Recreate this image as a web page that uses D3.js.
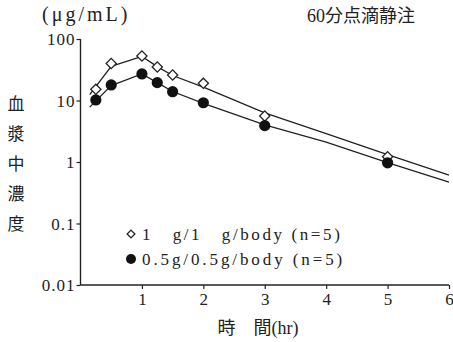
<!DOCTYPE html>
<html><head><meta charset="utf-8">
<script src="https://cdn.jsdelivr.net/npm/d3@7"></script>
<style>
html,body{margin:0;padding:0;background:#fff;}
svg{display:block;}
svg text{font-family:"Liberation Serif","Times New Roman","DejaVu Serif",Tinos,"Noto Sans CJK JP",serif;}
</style></head><body>
<svg id="c" width="453" height="342"></svg>
<script>
// Observed data (hr, µg/mL)
const timesHigh = [0.25, 0.5, 1, 1.25, 1.5, 2, 3, 5];
const valuesHigh = [15.2, 40, 53, 35, 26, 19, 5.6, 1.22];
const timesLow = [0.25, 0.5, 1, 1.25, 1.5, 2, 3, 5];
const valuesLow = [10.2, 17.9, 27, 19.5, 13.9, 9.2, 3.9, 0.97];
// Fitted curves
const fitTimesHigh = [0.15, 0.5, 1, 1.25, 1.5, 2, 3, 4, 5, 6];
const fitValuesHigh = [12.5, 36, 52, 35.5, 25.5, 16.5, 6.3, 2.9, 1.32, 0.61];
const fitTimesLow = [0.15, 0.5, 1, 1.25, 1.5, 2, 3, 4, 5, 6];
const fitValuesLow = [7.8, 17.5, 27, 19.5, 14, 9.0, 4.0, 2.1, 0.98, 0.47];
// Axis ticks
const xTicks = [1, 2, 3, 4, 5, 6];
const xTickLabels = ["1", "2", "3", "4", "5", "6"];
const yTicks = [0.01, 0.1, 1, 10, 100];
const yTickLabels = ["0.01", "0.1", "1", "10", "100"];
const legendLabels = ["1\u3000g/1\u3000g/body (n=5)", "0.5g/0.5g/body (n=5)"];
const yLabelChars = ["血", "漿", "中", "濃", "度"];

const SERIF = '"Liberation Serif", "Times New Roman", "DejaVu Serif", Tinos, "Noto Sans CJK JP", serif';
const svg = d3.select("#c");
const x = d3.scaleLinear().domain([0, 6]).range([80.5, 449]);
const y = d3.scaleLog().domain([0.01, 100]).range([285, 39]);
const ink = "#222";

// Axes
const yAxis = d3.axisLeft(y).tickValues(yTicks).tickSize(4).tickFormat((d, i) => yTickLabels[i]);
const gy = svg.append("g").attr("transform", "translate(80.5,0)").call(yAxis);
const xAxis = d3.axisBottom(x).tickValues(xTicks).tickSize(4).tickFormat((d, i) => xTickLabels[i]);
const gx = svg.append("g").attr("transform", "translate(0,285)").call(xAxis);
[gx, gy].forEach(g => {
  g.attr("font-family", null);
  g.select(".domain").attr("stroke", ink).attr("stroke-width", 1.4);
  g.selectAll(".tick line").attr("stroke", ink).attr("stroke-width", 1.2);
  g.selectAll(".tick text").attr("fill", "#222").attr("font-size", 17)
    .style("font-family", SERIF);
});
gy.select(".domain").attr("d", "M0,39V285");
gx.select(".domain").attr("d", "M80.5,0H449");
gy.selectAll(".tick text").attr("x", -5).attr("dy", "0.35em").style("letter-spacing", "1px");
gx.selectAll(".tick text").attr("y", 7).attr("dy", "0.75em");

// Fitted lines
const line = d3.line().x(d => x(d[0])).y(d => y(d[1]));
const fitH = fitTimesHigh.map((t, i) => [t, fitValuesHigh[i]]);
const fitL = fitTimesLow.map((t, i) => [t, fitValuesLow[i]]);
[fitH, fitL].forEach(p => svg.append("path").attr("d", line(p))
  .attr("fill", "none").attr("stroke", ink).attr("stroke-width", 1.3));

// Points
svg.append("g").selectAll("path").data(timesHigh.map((t, i) => [t, valuesHigh[i]]))
  .join("path").attr("d", d3.symbol().type(d3.symbolSquare).size(52))
  .attr("transform", d => `translate(${x(d[0])},${y(d[1])}) rotate(45)`)
  .attr("fill", "#fff").attr("stroke", ink).attr("stroke-width", 1.3);
svg.append("g").selectAll("circle").data(timesLow.map((t, i) => [t, valuesLow[i]]))
  .join("circle").attr("cx", d => x(d[0])).attr("cy", d => y(d[1])).attr("r", 5.6)
  .attr("fill", "#111");

// Legend
svg.append("path").attr("d", d3.symbol().type(d3.symbolSquare).size(30))
  .attr("transform", "translate(131,234) rotate(45)")
  .attr("fill", "#fff").attr("stroke", ink).attr("stroke-width", 1.3);
svg.append("circle").attr("cx", 131).attr("cy", 259).attr("r", 5).attr("fill", "#111");
legendLabels.forEach((s, i) => svg.append("text").attr("x", 142).attr("y", 240 + i * 25)
  .attr("font-size", 17).attr("fill", "#222").style("font-family", SERIF)
  .style("letter-spacing", i === 0 ? "2.6px" : "2.9px").text(s));

// Texts
svg.append("text").attr("x", 42).attr("y", 21).attr("font-size", 20).attr("fill", "#222")
  .style("font-family", SERIF).style("letter-spacing", "3px").text("(μg/mL)");
svg.append("text").attr("x", 307).attr("y", 22).attr("font-size", 18).attr("fill", "#222")
  .style("font-family", SERIF).text("60分点滴静注");
yLabelChars.forEach((c, i) => svg.append("text").attr("x", 16).attr("y", 110 + i * 30)
  .attr("text-anchor", "middle").attr("font-size", 17).attr("fill", "#222")
  .style("font-family", SERIF).text(c));
svg.append("text").attr("x", 258).attr("y", 334).attr("text-anchor", "middle")
  .attr("font-size", 18).attr("fill", "#222")
  .style("font-family", SERIF).text("時\u3000間(hr)");
</script></body></html>
